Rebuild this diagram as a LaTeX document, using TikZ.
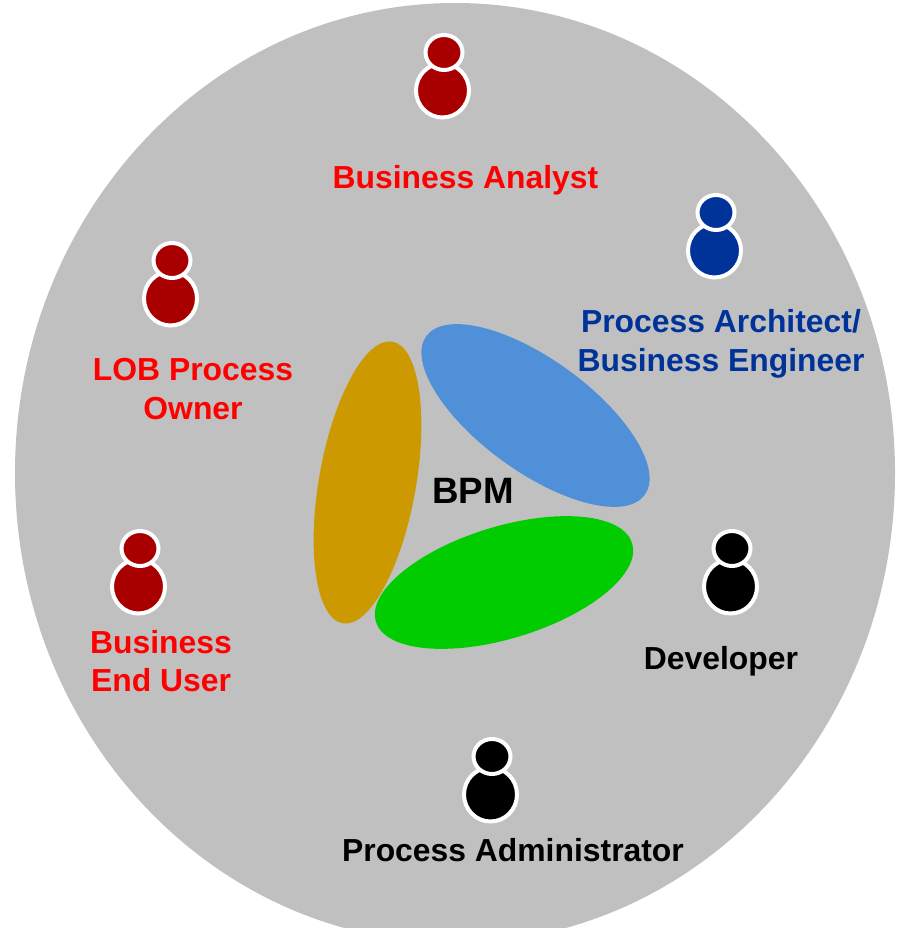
\documentclass[tikz,border=0pt]{standalone}
\usepackage{fontspec}
\setmainfont{Liberation Sans}
\definecolor{bg}{HTML}{C0C0C0}
\definecolor{dred}{HTML}{A80000}
\definecolor{dblue}{HTML}{003399}
\definecolor{lbl}{HTML}{FF0000}
\definecolor{petalgold}{RGB}{204,153,0}
\definecolor{petalblue}{RGB}{80,144,216}
\definecolor{petalgreen}{RGB}{0,204,0}
\tikzset{
 lab/.style={font=\bfseries\fontsize{23.9}{29}\selectfont,align=center,inner sep=0pt},
 personpart/.style={draw=white,line width=3pt},
}
\newcommand{\person}[3]{% x y color
 \draw[personpart,fill=#3] (#1,#2+38) circle[x radius=26.5,y radius=27];
 \draw[personpart,fill=#3] (#1+1.5,#2) circle[x radius=18.5,y radius=17.5];
}
\begin{document}
\begin{tikzpicture}[x=0.75pt,y=-0.75pt]
\useasboundingbox (0,0) rectangle (901,928);
\fill[white] (0,0) rectangle (901,928);
\begin{scope}
\clip (0,0) rectangle (901,928);
\fill[bg] (455,473) circle[x radius=440,y radius=470];
\end{scope}
\fill[petalgold] (367.5,482.5) circle[x radius=143,y radius=48.5,rotate=80];
\fill[petalblue] (535.5,415.5) circle[x radius=135,y radius=56,rotate=-36];
\fill[petalgreen] (504,582.5) circle[x radius=134,y radius=56,rotate=17];
\person{442.5}{52.5}{dred}
\person{714.5}{212.5}{dblue}
\person{170.5}{260.5}{dred}
\person{138.5}{548.5}{dred}
\person{730.5}{548.5}{black}
\person{490.5}{756.5}{black}
\node[lab,text=lbl] (ba) at (465.5,180) {Business Analyst};
\node[lab,text=dblue] (pa) at (721,344) {Process Architect/\\Business Engineer};
\node[lab,text=lbl] (lob) at (193,389) {LOB Process\\Owner};
\node[lab,text=lbl] (eu) at (161,661) {Business\\End User};
\node[lab,text=black] (dev) at (721,661) {Developer};
\node[lab,text=black] (adm) at (513,850) {Process Administrator};
\node[lab,text=black,font=\bfseries\fontsize{27.5}{32}\selectfont] (bpm) at (473,491) {BPM};
\end{tikzpicture}
\end{document}
